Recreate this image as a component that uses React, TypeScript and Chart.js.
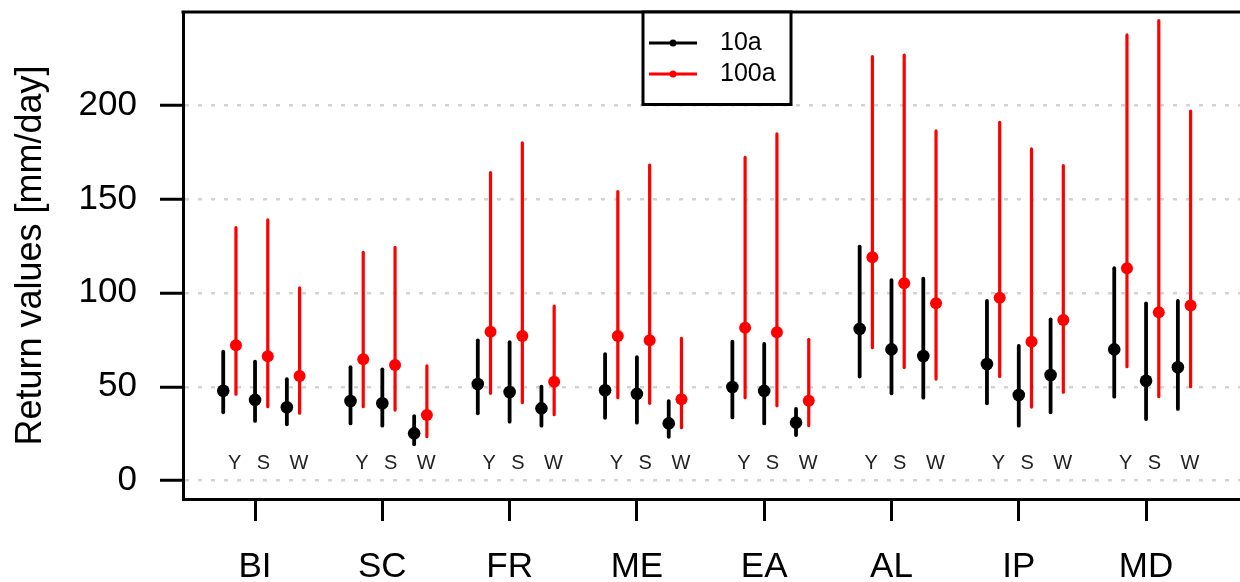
import React, { useEffect, useRef } from 'react';
import { Chart, registerables } from 'chart.js';

Chart.register(...registerables);

const regions = ['BI', 'SC', 'FR', 'ME', 'EA', 'AL', 'IP', 'MD'];
const seasons = ['Y', 'S', 'W'];
const yTickValues = [0, 50, 100, 150, 200];
const seriesLabels = ['10a', '100a'];
const seriesColors = ['#000000', '#ff0000'];

// values ordered region by region: Y, S, W
const rv10Mid = [47.9, 43.0, 39.1, 42.4, 41.2, 25.2, 51.5, 47.2, 38.5, 48.1, 46.2, 30.5, 49.9, 47.8, 30.9, 80.8, 69.9, 66.4, 62.1, 45.6, 56.3, 69.9, 53.2, 60.4];
const rv10Low = [36.4, 31.8, 30.0, 30.5, 29.3, 19.4, 35.9, 31.4, 29.3, 33.5, 30.9, 23.4, 33.7, 30.5, 24.3, 55.4, 46.5, 44.2, 41.2, 29.3, 36.4, 44.7, 32.8, 38.2];
const rv10High = [68.7, 63.4, 54.0, 60.4, 59.3, 34.4, 74.7, 73.7, 50.0, 67.4, 65.7, 42.4, 74.0, 72.8, 38.2, 124.6, 106.8, 107.5, 95.7, 71.7, 85.9, 113.1, 94.4, 95.7];
const rv100Mid = [72.1, 66.2, 55.7, 64.6, 61.6, 35.0, 79.3, 77.0, 52.7, 77.0, 74.7, 43.3, 81.4, 79.0, 42.6, 118.9, 105.1, 94.4, 97.4, 74.0, 85.5, 113.1, 89.6, 93.2];
const rv100Low = [46.0, 39.4, 35.9, 39.4, 37.6, 23.4, 46.5, 41.5, 35.1, 44.2, 41.2, 28.2, 44.2, 39.9, 29.3, 70.8, 60.2, 54.1, 55.4, 39.2, 47.1, 60.7, 44.7, 50.0];
const rv100High = [134.7, 138.9, 102.7, 121.6, 124.2, 61.1, 164.0, 179.9, 93.0, 153.9, 168.0, 75.8, 172.1, 184.6, 75.3, 225.7, 226.6, 186.2, 190.8, 176.6, 167.7, 237.3, 244.9, 196.8];

const seasonOffsets = [-0.25, 0, 0.25];
const labelOffsets = [-0.16, 0.065, 0.345];
const rp100Shift = 0.1;
const seasonLabelY = 9;

const FONT = '"Liberation Sans", Arial, Helvetica, sans-serif';

const xPositions = (shift: number) =>
  regions.flatMap((_, r) => seasons.map((_, s) => r + 1 + seasonOffsets[s] + shift));

const x10 = xPositions(0);
const x100 = xPositions(rp100Shift);

const bars = [
  { xs: x10, low: rv10Low, high: rv10High, color: seriesColors[0], width: 3.8 },
  { xs: x100, low: rv100Low, high: rv100High, color: seriesColors[1], width: 3.2 },
];

const errorBarPlugin = {
  id: 'errorBars',
  beforeDatasetsDraw(chart: any) {
    const { ctx, scales } = chart;
    const xs = scales.x;
    const ys = scales.y;
    ctx.save();
    ctx.lineCap = 'round';
    bars.forEach((b) => {
      ctx.strokeStyle = b.color;
      ctx.lineWidth = b.width;
      b.xs.forEach((xv, i) => {
        const px = xs.getPixelForValue(xv);
        ctx.beginPath();
        ctx.moveTo(px, ys.getPixelForValue(b.low[i]));
        ctx.lineTo(px, ys.getPixelForValue(b.high[i]));
        ctx.stroke();
      });
    });
    // season letters
    ctx.fillStyle = '#222222';
    ctx.font = `20px ${FONT}`;
    ctx.textAlign = 'center';
    ctx.textBaseline = 'middle';
    regions.forEach((_, r) => {
      seasons.forEach((s, si) => {
        ctx.fillText(s, xs.getPixelForValue(r + 1 + labelOffsets[si]), ys.getPixelForValue(seasonLabelY));
      });
    });
    ctx.restore();
  },
  afterDraw(chart: any) {
    const { ctx, chartArea } = chart;
    ctx.save();
    // top frame line
    ctx.strokeStyle = '#000';
    ctx.lineWidth = 3;
    ctx.beginPath();
    ctx.moveTo(chartArea.left - 1.5, chartArea.top);
    ctx.lineTo(chart.width, chartArea.top);
    ctx.stroke();
    // legend box
    const bx = 643, by = chartArea.top, bw = 148, bh = 92.5;
    ctx.fillStyle = '#fff';
    ctx.fillRect(bx, by, bw, bh);
    ctx.strokeRect(bx, by, bw, bh);
    const rows = [43, 74];
    seriesLabels.forEach((lab, i) => {
      const yy = rows[i];
      ctx.strokeStyle = seriesColors[i];
      ctx.lineWidth = 3;
      ctx.beginPath();
      ctx.moveTo(649, yy);
      ctx.lineTo(697, yy);
      ctx.stroke();
      ctx.fillStyle = seriesColors[i];
      ctx.beginPath();
      ctx.arc(673, yy, 3.5, 0, Math.PI * 2);
      ctx.fill();
      ctx.fillStyle = '#000';
      ctx.font = `25px ${FONT}`;
      ctx.textAlign = 'left';
      ctx.textBaseline = 'middle';
      ctx.fillText(lab, 720, yy);
    });
    ctx.restore();
  },
};

export default function App() {
  const canvasRef = useRef<HTMLCanvasElement | null>(null);

  useEffect(() => {
    const canvas = canvasRef.current;
    if (!canvas) return;
    const chart = new Chart(canvas, {
      type: 'scatter',
      data: {
        datasets: [
          {
            label: seriesLabels[0],
            data: x10.map((x, i) => ({ x, y: rv10Mid[i] })),
            backgroundColor: seriesColors[0],
            borderColor: seriesColors[0],
            pointRadius: 6.3,
            pointBorderWidth: 0,
            order: 2,
          },
          {
            label: seriesLabels[1],
            data: x100.map((x, i) => ({ x, y: rv100Mid[i] })),
            backgroundColor: seriesColors[1],
            borderColor: seriesColors[1],
            pointRadius: 6,
            pointBorderWidth: 0,
            order: 1,
          },
        ],
      },
      options: {
        responsive: false,
        animation: false,
        devicePixelRatio: 1,
        layout: { autoPadding: false, padding: { top: 12, left: 0, right: 0, bottom: 0 } },
        plugins: { legend: { display: false }, tooltip: { enabled: false } },
        scales: {
          x: {
            type: 'linear',
            min: 0.434,
            max: 8.738,
            afterBuildTicks: (scale: any) => {
              scale.ticks = regions.map((_, i) => ({ value: i + 1 }));
            },
            afterFit: (scale: any) => {
              scale.height = 83;
              scale.paddingLeft = 0;
              scale.paddingRight = 0;
            },
            ticks: {
              callback: (v: any) => regions[Math.round(Number(v)) - 1] ?? '',
              font: { family: FONT, size: 35 },
              color: '#000',
              padding: 25,
              maxRotation: 0,
              autoSkip: false,
            },
            grid: {
              drawOnChartArea: false,
              drawTicks: true,
              tickLength: 22,
              tickWidth: 3,
              tickColor: '#000',
            },
            border: { display: true, color: '#000', width: 3 },
          },
          y: {
            type: 'linear',
            min: -9.75,
            max: 249.5,
            afterBuildTicks: (scale: any) => {
              scale.ticks = yTickValues.map((v) => ({ value: v }));
            },
            afterFit: (scale: any) => {
              scale.width = 183;
              scale.paddingTop = 0;
              scale.paddingBottom = 0;
            },
            ticks: {
              font: { family: FONT, size: 35 },
              color: '#000',
              padding: 23,
            },
            grid: {
              color: '#d3d3d3',
              lineWidth: 2.5,
              drawTicks: true,
              tickLength: 23,
              tickWidth: 3,
              tickColor: '#000',
              tickBorderDash: [],
            },
            border: { display: true, color: '#000', width: 3, dash: [4, 9] },
            title: {
              display: true,
              text: 'Return values [mm/day]',
              font: { family: FONT, size: 36 },
              color: '#000',
              padding: { top: 9, bottom: 0 },
            },
          },
        },
      },
      plugins: [errorBarPlugin],
    } as any);
    return () => chart.destroy();
  }, []);

  return (
    <div style={{ position: 'absolute', left: 0, top: 0, width: 1240, height: 582, background: '#fff' }}>
      <canvas ref={canvasRef} width={1240} height={582} style={{ display: 'block', width: 1240, height: 582 }} />
    </div>
  );
}
